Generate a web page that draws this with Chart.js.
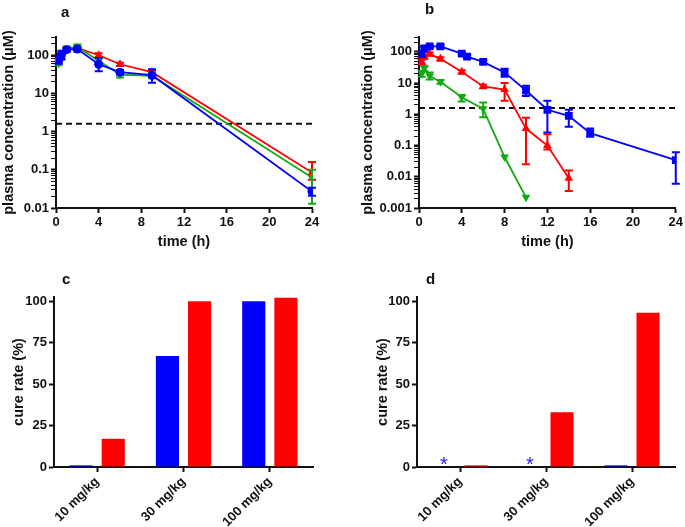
<!DOCTYPE html>
<html><head><meta charset="utf-8">
<script src="https://cdn.jsdelivr.net/npm/chart.js@4.4.1/dist/chart.umd.min.js"></script>
<style>
body{margin:0;background:#fff;width:685px;height:527px;position:relative;overflow:hidden;font-family:'Liberation Sans',Arial,sans-serif;}
canvas{position:absolute;}
.lbl{position:absolute;font-weight:bold;font-size:15px;color:#111;line-height:1;}
</style></head><body>
<canvas id="ca" width="342" height="262" style="left:0;top:0"></canvas>
<canvas id="cb" width="330" height="262" style="left:355px;top:0"></canvas>
<canvas id="cc" width="342" height="265" style="left:0;top:262px"></canvas>
<canvas id="cd" width="321" height="265" style="left:364px;top:262px"></canvas>
<div class="lbl" style="left:61px;top:4px">a</div>
<div class="lbl" style="left:425px;top:1px">b</div>
<div class="lbl" style="left:62px;top:271px">c</div>
<div class="lbl" style="left:426px;top:271px">d</div>
<script>
// ---------- data ----------
const timeTicks = [0, 4, 8, 12, 16, 20, 24];
const threshold = 1.6;
const aDecades = [0.01, 0.1, 1, 10, 100];
const bDecades = [0.001, 0.01, 0.1, 1, 10, 100];

// panel a
const aTime = [0.25, 0.5, 1, 2, 4, 6, 9, 24];
const aBlue   = [75, 105, 140, 145, 58, 36, 30, 0.027];
const aBlueLo = [60, 80, 125, 125, 38, 31, 19, 0.021];
const aBlueHi = [92, 130, 158, 165, 85, 41, 43, 0.034];
const aRed    = [70, 95, 140, 155, 100, 58, 36, 0.085];
const aRedLo  = [62, 85, 125, 140, 88, 52, 32, 0.055];
const aRedHi  = [80, 105, 155, 170, 112, 64, 40, 0.16];
const aGreen   = [62, 85, 150, 165, 72, 31, 29, 0.063];
const aGreenLo = [55, 75, 130, 140, 60, 26, 25, 0.013];
const aGreenHi = [70, 95, 170, 190, 84, 35, 33, 0.1];

// panel b
const bBlueTime = [0.25, 0.5, 1, 2, 4, 4.5, 6, 8, 10, 12, 14, 16, 24];
const bBlue   = [85, 130, 150, 150, 88, 70, 48, 22, 5.8, 1.4, 0.9, 0.25, 0.034];
const bBlueLo = [70, 115, 135, 135, 78, 62, 42, 16, 3.9, 0.26, 0.4, 0.19, 0.006];
const bBlueHi = [100, 145, 165, 165, 98, 78, 54, 29, 8.2, 2.7, 1.4, 0.35, 0.061];
const bRedTime = [0.25, 0.5, 1, 2, 4, 6, 8, 10, 12, 14];
const bRed   = [48, 70, 85, 60, 23, 7.8, 6.2, 0.35, 0.1, 0.009];
const bRedLo = [40, 60, 75, 52, 20, 6.8, 2.7, 0.025, 0.075, 0.0035];
const bRedHi = [56, 80, 95, 68, 26, 8.8, 10, 0.78, 0.23, 0.016];
const bGreenTime = [0.25, 0.5, 1, 2, 4, 6, 8, 10];
const bGreen   = [20, 30, 17, 11, 3.5, 1.5, 0.043, 0.0022];
const bGreenLo = [16, 24, 13, 9.5, 2.6, 0.8, null, null];
const bGreenHi = [25, 36, 22, 12.5, 4.2, 2.4, null, null];

// panels c, d
const doses = ['10 mg/kg', '30 mg/kg', '100 mg/kg'];
const cureTicks = [0, 25, 50, 75, 100];
const cBlue = [1, 67, 100];
const cRed  = [17, 100, 102];
const dBlue = [0, 0, 1];
const dRed  = [1, 33, 93];
const dMark = ['*', '*', ''];

// ---------- styling ----------
const BLUE = '#0000ff', RED = '#ff0000', GREEN = '#12aa12', INK = '#111';
const TICK_FONT = {size: 13, weight: 'bold'};
const TITLE_FONT = {size: 14.5, weight: 'bold'};
Chart.defaults.font.family = "'Liberation Sans', Arial, sans-serif";
Chart.defaults.font.weight = 'bold';
Chart.defaults.color = INK;
Chart.defaults.animation = false;

const errorBars = {
  id: 'errorBars',
  beforeDatasetDraw(chart, args) {
    const ds = chart.data.datasets[args.index];
    if (!ds.errLo) return;
    const ctx = chart.ctx, ys = chart.scales.y;
    ctx.save();
    ctx.strokeStyle = ds.borderColor; ctx.lineWidth = 2;
    args.meta.data.forEach((pt, j) => {
      const lo = ds.errLo[j], hi = ds.errHi[j];
      if (lo == null || hi == null) return;
      const y1 = ys.getPixelForValue(lo), y2 = ys.getPixelForValue(hi);
      ctx.beginPath();
      ctx.moveTo(pt.x, y1); ctx.lineTo(pt.x, y2);
      ctx.moveTo(pt.x - 4, y1); ctx.lineTo(pt.x + 4, y1);
      ctx.moveTo(pt.x - 4, y2); ctx.lineTo(pt.x + 4, y2);
      ctx.stroke();
    });
    ctx.restore();
  }
};

const markPlugin = {
  id: 'marks',
  afterDatasetsDraw(chart, args, opts) {
    if (!opts.marks) return;
    const meta = chart.getDatasetMeta(0), ys = chart.scales.y, ctx = chart.ctx;
    ctx.save();
    ctx.fillStyle = '#2020ff'; ctx.font = "20px 'Liberation Sans', Arial, sans-serif";
    ctx.textAlign = 'center'; ctx.textBaseline = 'alphabetic';
    opts.marks.forEach((m, i) => {
      if (!m) return;
      ctx.fillText(m, meta.data[i].x, ys.getPixelForValue(0) + 4);
    });
    ctx.restore();
  }
};

function series(times, vals, lo, hi, color, style, rot, r) {
  return {
    data: times.map((t, i) => ({x: t, y: vals[i]})),
    errLo: lo, errHi: hi,
    borderColor: color, backgroundColor: color, borderWidth: 1.8,
    pointStyle: style, pointRotation: rot, pointRadius: r, pointBorderWidth: 0,
    tension: 0
  };
}
function dashSet() {
  return {data: [{x: timeTicks[0], y: threshold}, {x: timeTicks[timeTicks.length - 1], y: threshold}],
    borderColor: INK, borderWidth: 2, borderDash: [6, 4], pointRadius: 0};
}
const gridOpts = (tw) => ({display: true, drawOnChartArea: false, drawTicks: true, tickLength: 5, tickColor: INK, tickWidth: tw || 2});
const borderOpts = {display: true, color: INK, width: 2};

function logChart(id, datasets, yMin, yMax, decades, g) {
  return new Chart(document.getElementById(id), {
    type: 'line',
    data: {datasets},
    plugins: [errorBars],
    options: {
      responsive: false, events: [],
      layout: {padding: {top: g.top, right: g.right, left: 0, bottom: 0}},
      plugins: {legend: {display: false}, tooltip: {enabled: false}},
      scales: {
        x: {
          type: 'linear', min: timeTicks[0], max: timeTicks[timeTicks.length - 1],
          afterBuildTicks: s => { s.ticks = timeTicks.map(v => ({value: v})); },
          ticks: {font: TICK_FONT, color: INK, padding: 2, maxRotation: 0, autoSkip: false},
          grid: gridOpts(2), border: borderOpts,
          title: {display: true, text: 'time (h)', color: INK, font: TITLE_FONT, padding: {top: 0, bottom: 11}},
          afterFit: s => { s.height = g.xh; }
        },
        y: {
          type: 'logarithmic', min: yMin, max: yMax,
          afterBuildTicks: s => {
            const t = [];
            for (let e = Math.round(Math.log10(yMin)); Math.pow(10, e) <= yMax; e++) {
              for (let k = 1; k < 10; k++) {
                const v = +(k * Math.pow(10, e)).toPrecision(3);
                if (v <= yMax * 1.0001 && v >= yMin * 0.9999) t.push({value: v, major: k === 1});
              }
            }
            s.ticks = t;
          },
          ticks: {autoSkip: false, padding: 2, color: INK, font: TICK_FONT,
            callback: v => decades.includes(v) ? String(v) : ''},
          grid: Object.assign(gridOpts(), {tickWidth: c => (c.tick && c.tick.major) ? 2 : 1}),
          border: borderOpts,
          title: {display: true, text: 'plasma concentration (\u03bcM)', color: INK, font: TITLE_FONT, padding: {top: g.tp, bottom: 0}},
          afterFit: s => { s.width = g.yw; }
        }
      }
    }
  });
}

logChart('ca', [
  series(aTime, aBlue, aBlueLo, aBlueHi, BLUE, 'circle', 0, 4.5),
  series(aTime, aGreen, aGreenLo, aGreenHi, GREEN, 'triangle', 180, 5),
  series(aTime, aRed, aRedLo, aRedHi, RED, 'triangle', 0, 5),
  dashSet()
], 0.01, 300, aDecades, {top: 37, right: 30, xh: 54, yw: 56, tp: 0});

logChart('cb', [
  series(bBlueTime, bBlue, bBlueLo, bBlueHi, BLUE, 'rect', 0, 5.5),
  series(bRedTime, bRed, bRedLo, bRedHi, RED, 'triangle', 0, 5),
  series(bGreenTime, bGreen, bGreenLo, bGreenHi, GREEN, 'triangle', 180, 5),
  dashSet()
], 0.001, 300, bDecades, {top: 37, right: 9, xh: 54, yw: 64, tp: 4});

function barChart(id, blue, red, marks, g) {
  const bar = (vals, color) => ({data: vals, backgroundColor: color, borderWidth: 0,
    categoryPercentage: 0.745, barPercentage: 0.72});
  return new Chart(document.getElementById(id), {
    type: 'bar',
    data: {labels: doses, datasets: [bar(blue, BLUE), bar(red, RED)]},
    plugins: [markPlugin],
    options: {
      responsive: false, events: [],
      layout: {padding: {top: g.top, right: g.right, left: 0, bottom: 0}},
      plugins: {legend: {display: false}, tooltip: {enabled: false}, marks: {marks}},
      scales: {
        x: {
          type: 'category', offset: true,
          grid: Object.assign(gridOpts(2), {offset: false}), border: borderOpts,
          ticks: {font: TICK_FONT, color: INK, minRotation: 45, maxRotation: 45, padding: 2, autoSkip: false},
          afterFit: s => { s.height = g.xh; }
        },
        y: {
          min: 0, max: 102.5,
          afterBuildTicks: s => { s.ticks = cureTicks.map(v => ({value: v})); },
          ticks: {font: TICK_FONT, color: INK, padding: 2},
          grid: gridOpts(2), border: borderOpts,
          title: {display: true, text: 'cure rate (%)', color: INK, font: TITLE_FONT, padding: {top: g.tp, bottom: 0}},
          afterFit: s => { s.width = g.yw; }
        }
      }
    }
  });
}

barChart('cc', cBlue, cRed, null, {top: 35, right: 29, xh: 60, yw: 54, tp: 10});
barChart('cd', dBlue, dRed, dMark, {top: 35, right: 10, xh: 60, yw: 53, tp: 10});
</script>
</body></html>
